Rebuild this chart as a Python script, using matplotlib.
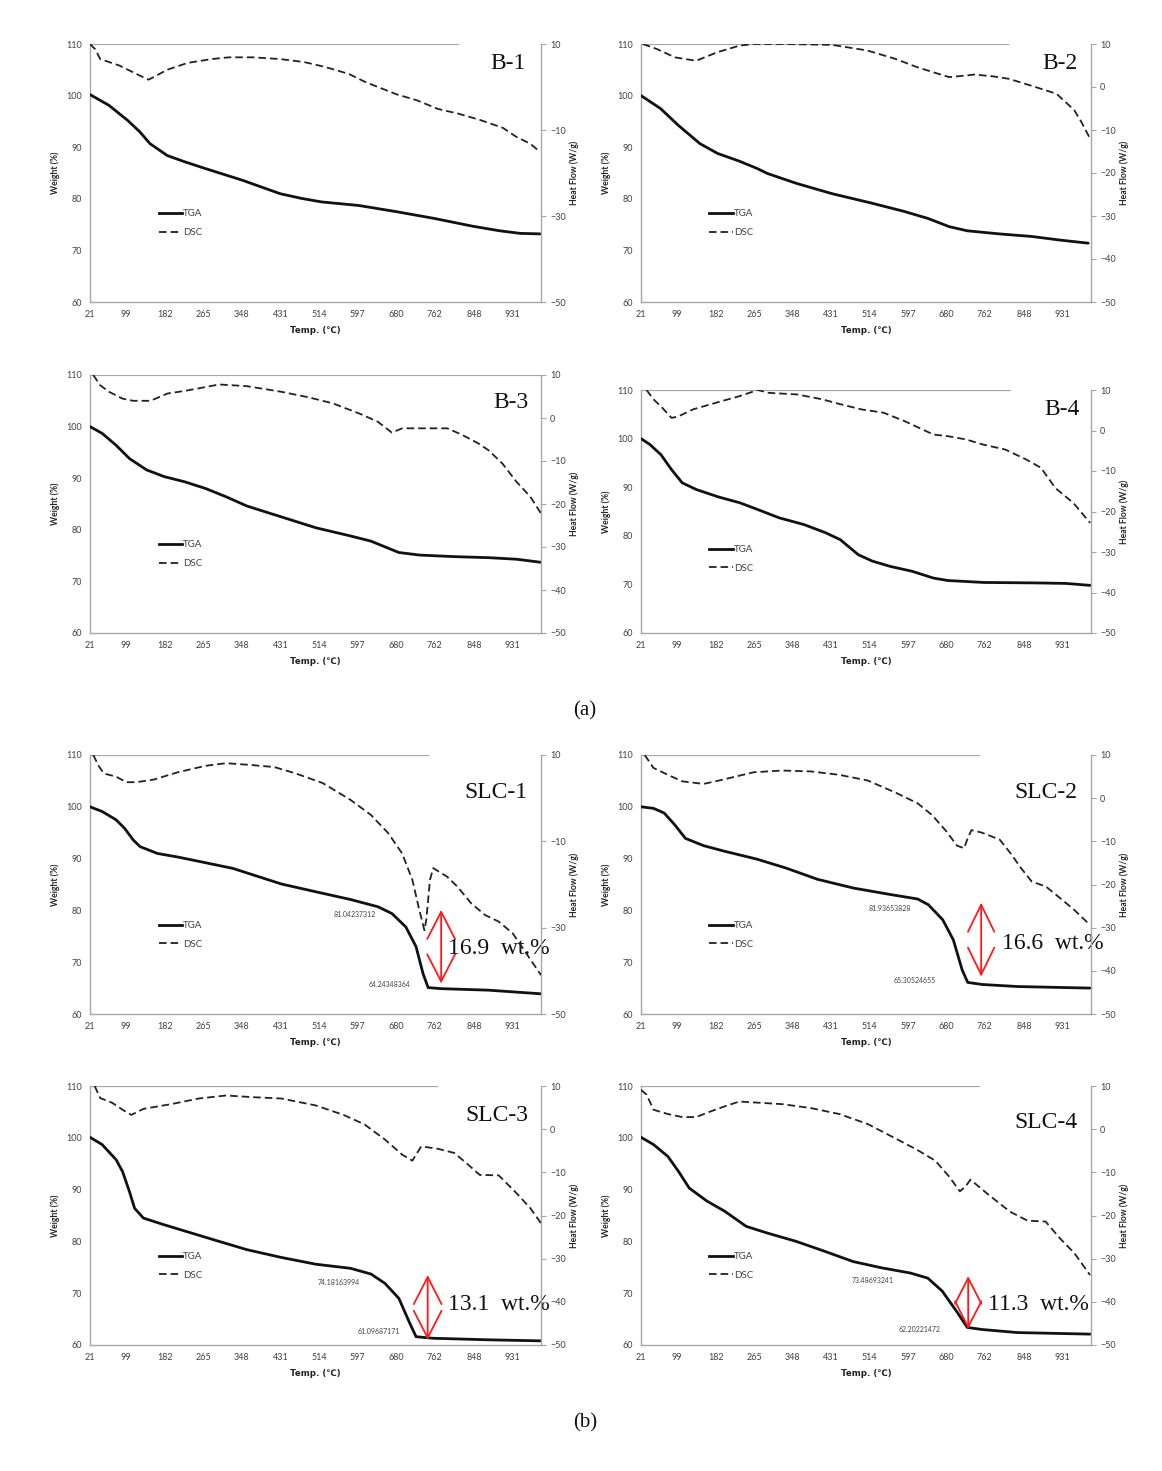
import matplotlib
matplotlib.use('Agg')
import matplotlib.pyplot as plt
from matplotlib.lines import Line2D

plt.rcParams['font.family'] = ['Lato', 'DejaVu Sans']

W, H = 1162, 1471
fig = plt.figure(figsize=(W / 100, H / 100), dpi=100)

# ---------------- data ----------------
xtick_labels = [21, 99, 182, 265, 348, 431, 514, 597, 680, 762, 848, 931]
x_max = 992

# B-1
b1_tga_t = [21, 62, 102, 128, 150, 187, 224, 268, 349, 430, 475, 519, 600, 681, 762, 844, 903, 947, 990]
b1_tga_w = [100.2, 98.1, 95.2, 93.0, 90.7, 88.4, 87.2, 85.9, 83.6, 81.0, 80.1, 79.4, 78.7, 77.5, 76.2, 74.7, 73.8, 73.3, 73.2]
b1_dsc_t = [21, 32, 43, 84, 135, 147, 158, 187, 231, 283, 320, 371, 430, 482, 526, 578, 615, 681, 725, 770, 814, 859, 910, 939, 969, 990]
b1_dsc_h = [10, 8.8, 6.5, 5.0, 2.3, 1.7, 2.3, 4.0, 5.6, 6.5, 6.9, 6.9, 6.5, 5.8, 4.7, 3.05, 1.1, -1.7, -3.1, -5.1, -6.2, -7.6, -9.5, -11.6, -13.2, -15.1]

# B-2
b2_tga_t = [21, 63, 102, 148, 186, 233, 271, 294, 356, 433, 517, 587, 640, 686, 725, 794, 864, 925, 986]
b2_tga_w = [100, 97.5, 94.2, 90.7, 88.8, 87.3, 85.9, 84.9, 83.0, 81.0, 79.2, 77.6, 76.2, 74.6, 73.8, 73.2, 72.7, 72.0, 71.4]
b2_dsc_t = [25, 56, 94, 140, 186, 233, 263, 330, 433, 509, 571, 617, 663, 686, 725, 740, 779, 815, 872, 918, 956, 971, 990]
b2_dsc_h = [10, 8.8, 6.9, 6.1, 8.1, 9.6, 10, 10, 9.8, 8.5, 6.5, 4.6, 3.05, 2.3, 2.7, 2.9, 2.5, 1.9, 0, -1.6, -5.4, -8.1, -12]

# B-3
b3_tga_t = [21, 47, 77, 106, 143, 181, 225, 270, 314, 359, 433, 507, 582, 626, 656, 686, 731, 805, 879, 939, 992]
b3_tga_w = [100, 98.7, 96.4, 93.8, 91.6, 90.3, 89.3, 88.0, 86.4, 84.6, 82.5, 80.4, 78.8, 77.8, 76.7, 75.6, 75.1, 74.8, 74.6, 74.3, 73.7]
b3_dsc_t = [28, 43, 62, 91, 114, 151, 188, 225, 270, 299, 359, 433, 492, 544, 604, 641, 671, 693, 731, 790, 820, 857, 879, 909, 939, 969, 992]
b3_dsc_h = [10, 7.6, 6.1, 4.5, 4.0, 4.0, 5.7, 6.3, 7.2, 7.8, 7.4, 6.1, 4.8, 3.4, 0.9, -0.9, -3.4, -2.4, -2.4, -2.4, -3.8, -5.9, -7.5, -10.6, -14.8, -18.3, -22.2]

# B-4
b4_tga_t = [21, 40, 64, 87, 110, 141, 188, 234, 273, 319, 373, 420, 451, 490, 520, 559, 606, 652, 683, 760, 877, 938, 990]
b4_tga_w = [100, 98.8, 96.7, 93.6, 90.9, 89.5, 88.0, 86.8, 85.4, 83.7, 82.3, 80.6, 79.2, 76.1, 74.8, 73.7, 72.7, 71.3, 70.8, 70.4, 70.3, 70.2, 69.8]
b4_dsc_t = [33, 48, 67, 87, 102, 133, 172, 203, 234, 273, 296, 358, 412, 451, 497, 544, 590, 652, 683, 722, 760, 807, 853, 884, 915, 954, 990]
b4_dsc_h = [10, 7.7, 5.6, 3.1, 3.5, 5.2, 6.5, 7.5, 8.5, 10, 9.3, 8.9, 7.7, 6.5, 5.2, 4.4, 2.3, -1.0, -1.4, -2.2, -3.5, -4.7, -7.2, -9.2, -14.2, -17.9, -22.8]

# SLC-1
s1_tga_t = [21, 47, 77, 95, 114, 129, 166, 210, 270, 329, 374, 433, 507, 582, 641, 671, 701, 723, 738, 749, 775, 879, 992]
s1_tga_w = [100, 99.1, 97.5, 95.9, 93.6, 92.3, 91.0, 90.3, 89.2, 88.1, 86.8, 85.1, 83.6, 82.1, 80.7, 79.4, 76.8, 73.0, 67.8, 65.1, 64.9, 64.6, 63.9]
s1_dsc_t = [28, 40, 51, 77, 99, 121, 158, 210, 270, 314, 366, 418, 462, 522, 582, 626, 663, 693, 715, 730, 741, 745, 753, 760, 790, 812, 842, 872, 901, 931, 960, 992]
s1_dsc_h = [10, 7.4, 5.7, 5.0, 3.7, 3.7, 4.3, 6.0, 7.5, 8.1, 7.7, 7.2, 5.8, 3.5, -0.4, -3.9, -8.1, -12.8, -18.9, -25.9, -30.6, -28.2, -18.9, -16.2, -18.2, -20.5, -24.4, -27.1, -28.6, -31.3, -35.9, -41.0]

# SLC-2
s2_tga_t = [21, 48, 71, 94, 117, 156, 202, 271, 333, 402, 480, 557, 618, 641, 672, 695, 714, 726, 757, 834, 990]
s2_tga_w = [100, 99.7, 98.8, 96.5, 93.9, 92.5, 91.4, 89.9, 88.2, 86.0, 84.3, 83.1, 82.2, 81.1, 78.2, 74.3, 68.5, 66.1, 65.7, 65.3, 65.0]
s2_dsc_t = [29, 48, 79, 110, 156, 202, 264, 325, 387, 449, 510, 572, 618, 649, 680, 703, 718, 726, 734, 757, 795, 818, 841, 864, 895, 926, 956, 990]
s2_dsc_h = [10, 7.0, 5.4, 3.9, 3.3, 4.4, 6.0, 6.4, 6.2, 5.4, 4.1, 1.2, -1.2, -3.9, -7.7, -11.0, -11.6, -9.3, -7.4, -8.0, -9.6, -12.7, -16.2, -19.3, -20.5, -23.2, -25.9, -29.4]

# SLC-3
s3_tga_t = [21, 47, 77, 91, 106, 117, 136, 181, 240, 299, 359, 433, 507, 582, 626, 656, 686, 708, 723, 760, 879, 992]
s3_tga_w = [100.1, 98.7, 95.8, 93.5, 89.6, 86.4, 84.5, 83.2, 81.6, 80.0, 78.4, 76.9, 75.6, 74.8, 73.7, 71.9, 69.0, 64.5, 61.6, 61.3, 61.0, 60.8]
s3_dsc_t = [31, 43, 69, 91, 110, 136, 196, 255, 314, 374, 433, 507, 567, 612, 656, 693, 715, 734, 768, 805, 834, 860, 901, 939, 969, 992]
s3_dsc_h = [10, 7.2, 6.1, 4.5, 3.3, 4.7, 5.8, 7.1, 7.8, 7.4, 7.1, 5.5, 3.3, 1.1, -2.4, -5.9, -7.3, -4.0, -4.5, -5.5, -8.1, -10.6, -10.7, -14.8, -18.3, -21.8]

# SLC-4
s4_tga_t = [21, 48, 79, 102, 125, 163, 202, 248, 294, 356, 417, 479, 540, 602, 640, 671, 702, 725, 756, 833, 990]
s4_tga_w = [100.1, 98.7, 96.4, 93.5, 90.3, 87.8, 85.8, 82.9, 81.6, 80.0, 78.1, 76.1, 74.9, 73.9, 72.9, 70.4, 66.5, 63.4, 63.0, 62.4, 62.1]
s4_dsc_t = [21, 33, 48, 79, 110, 140, 171, 202, 233, 279, 325, 387, 449, 510, 571, 617, 656, 686, 709, 721, 732, 771, 817, 855, 894, 925, 956, 990]
s4_dsc_h = [9.1, 8.0, 4.5, 3.5, 2.8, 2.8, 4.1, 5.3, 6.4, 6.1, 5.8, 4.9, 3.5, 1.2, -2.2, -4.8, -7.3, -11.0, -14.4, -13.3, -11.7, -15.2, -19.1, -21.2, -21.4, -25.3, -28.7, -33.8]

# mass-loss annotations: (onset label, end label, loss text)
s1_marks = ['81.04237312', '64.24348364', '16.9  wt.%']
s2_marks = ['81.93653828', '65.30524655', '16.6  wt.%']
s3_marks = ['74.18163994', '61.09687171', '13.1  wt.%']
s4_marks = ['73.48693241', '62.20221472', '11.3  wt.%']

rt_a = [10, -10, -30, -50]
rt_b = [10, 0, -10, -20, -30, -40, -50]

# ---------------- styling ----------------
GRAY = '#a6a6a6'
TXT = '#404040'
SERIF = ['Liberation Serif', 'DejaVu Serif']
DASH = (0, (4.2, 2.2))


def make_axes(box):
    x0, y0, x1, y1 = box
    return fig.add_axes([x0 / W, 1 - y1 / H, (x1 - x0) / W, (y1 - y0) / H])


def panel(box, tga, dsc, rticks, topline, name, label_xy, ann=None):
    ax = make_axes(box)
    ax.plot(tga[0], tga[1], color='#111111', lw=2.0, solid_capstyle='round',
            solid_joinstyle='round', zorder=3)
    ax.set_xlim(21, x_max)
    ax.set_ylim(60, 110)
    ax.set_yticks([60, 70, 80, 90, 100, 110])
    ax.set_xticks(xtick_labels)
    ax.set_xticklabels([str(v) for v in xtick_labels])
    ax.tick_params(axis='both', length=0, labelsize=6.5, labelcolor=TXT)
    ax.tick_params(axis='y', pad=6)
    ax.tick_params(axis='x', pad=6)
    for s in ['left', 'bottom']:
        ax.spines[s].set_color(GRAY)
        ax.spines[s].set_linewidth(1.0)
    ax.spines['top'].set_visible(False)
    ax.spines['right'].set_visible(False)
    ax.axhline(110, xmin=0, xmax=topline, color=GRAY, lw=1.6, zorder=1)
    ax.set_ylabel('Weight (%)', fontsize=6.2, fontweight='bold', color='#222222', labelpad=4)
    ax.set_xlabel('Temp. (℃)', fontsize=6.2, fontweight='bold', color='#222222', labelpad=5,
                  family=['DejaVu Sans'])

    ax2 = ax.twinx()
    ax2.plot(dsc[0], dsc[1], color='#222222', lw=1.3, linestyle=DASH, zorder=3)
    ax2.set_ylim(-50, 10)
    ax2.set_yticks(rticks)
    ax2.tick_params(axis='y', length=3.5, width=0.8, color=GRAY, labelsize=6.5, labelcolor=TXT, pad=3)
    for s in ['left', 'bottom', 'top']:
        ax2.spines[s].set_visible(False)
    ax2.spines['right'].set_color(GRAY)
    ax2.spines['right'].set_linewidth(1.0)
    ax2.set_ylabel('Heat Flow (W/g)', fontsize=6.2, fontweight='bold', color='#222222', labelpad=3)

    handles = [Line2D([], [], color='#111111', lw=2.0),
               Line2D([], [], color='#222222', lw=1.3, linestyle=DASH)]
    ax2.legend(handles, ['TGA', 'DSC'], loc='center left', bbox_to_anchor=(0.152, 0.305),
               frameon=False, fontsize=7, handlelength=2.4, handletextpad=0.1,
               labelspacing=1.0, borderpad=0, borderaxespad=0, labelcolor=TXT)

    ax2.text(label_xy[0], label_xy[1], name, transform=ax2.transAxes, ha='right', va='center',
             fontsize=17, family=SERIF, color='#111111')

    if ann is not None:
        labels, l1, l2, arr, txt = ann
        ax.text(l1[0], l1[1], labels[0], fontsize=5, color=TXT, ha='center', va='center', zorder=4)
        ax.text(l2[0], l2[1], labels[1], fontsize=5, color=TXT, ha='center', va='center', zorder=4)
        ax.annotate('', xy=(arr[0], arr[2]), xytext=(arr[0], arr[1]),
                    arrowprops=dict(arrowstyle='<->,head_length=%.2f,head_width=%.2f' % (arr[3], arr[4]),
                                    color='#ff1a1a', lw=1.3, shrinkA=0, shrinkB=0,
                                    mutation_scale=10), zorder=5)
        ax.text(txt[0], txt[1], labels[2], fontsize=17, family=SERIF, color='#111111',
                ha='left', va='center', zorder=6)
    return ax, ax2


LX0, LX1 = 90, 541
RX0, RX1 = 641, 1091

panel((LX0, 44, LX1, 302), (b1_tga_t, b1_tga_w), (b1_dsc_t, b1_dsc_h), rt_a, 0.815, 'B-1', (0.967, 0.926))
panel((RX0, 44, RX1, 302), (b2_tga_t, b2_tga_w), (b2_dsc_t, b2_dsc_h), rt_b, 0.816, 'B-2', (0.97, 0.926))
panel((LX0, 375, LX1, 633), (b3_tga_t, b3_tga_w), (b3_dsc_t, b3_dsc_h), rt_b, 1.0, 'B-3', (0.972, 0.895))
panel((RX0, 390, RX1, 633), (b4_tga_t, b4_tga_w), (b4_dsc_t, b4_dsc_h), rt_b, 0.82, 'B-4', (0.975, 0.918))

panel((LX0, 755, LX1, 1014), (s1_tga_t, s1_tga_w), (s1_dsc_t, s1_dsc_h), rt_a, 0.749, 'SLC-1', (0.971, 0.857),
      ann=(s1_marks, (590, 79.3), (665, 65.7), (777, 80.1, 65.9, 1.95, 1.0), (792, 72.6)))
panel((RX0, 755, RX1, 1014), (s2_tga_t, s2_tga_w), (s2_dsc_t, s2_dsc_h), rt_b, 0.752, 'SLC-2', (0.969, 0.857),
      ann=(s2_marks, (557, 80.4), (611, 66.4), (755, 81.5, 67.2, 1.95, 0.95), (799, 73.7)))
panel((LX0, 1086, LX1, 1345), (s3_tga_t, s3_tga_w), (s3_dsc_t, s3_dsc_h), rt_b, 0.77, 'SLC-3', (0.972, 0.888),
      ann=(s3_marks, (556, 72.1), (642, 62.7), (748, 73.5, 61.0, 1.95, 1.0), (792, 67.9)))
panel((RX0, 1086, RX1, 1345), (s4_tga_t, s4_tga_w), (s4_dsc_t, s4_dsc_h), rt_b, 0.75, 'SLC-4', (0.97, 0.861),
      ann=(s4_marks, (520, 72.4), (621, 62.9), (727, 73.3, 63.1, 1.85, 0.95), (770, 67.8)))

fig.text(585 / W, 1 - 711 / H, '(a)', ha='center', va='center', fontsize=15, family=SERIF, color='#111111')
fig.text(585 / W, 1 - 1423 / H, '(b)', ha='center', va='center', fontsize=15, family=SERIF, color='#111111')

fig.savefig('out.png', dpi=100, facecolor='white')
